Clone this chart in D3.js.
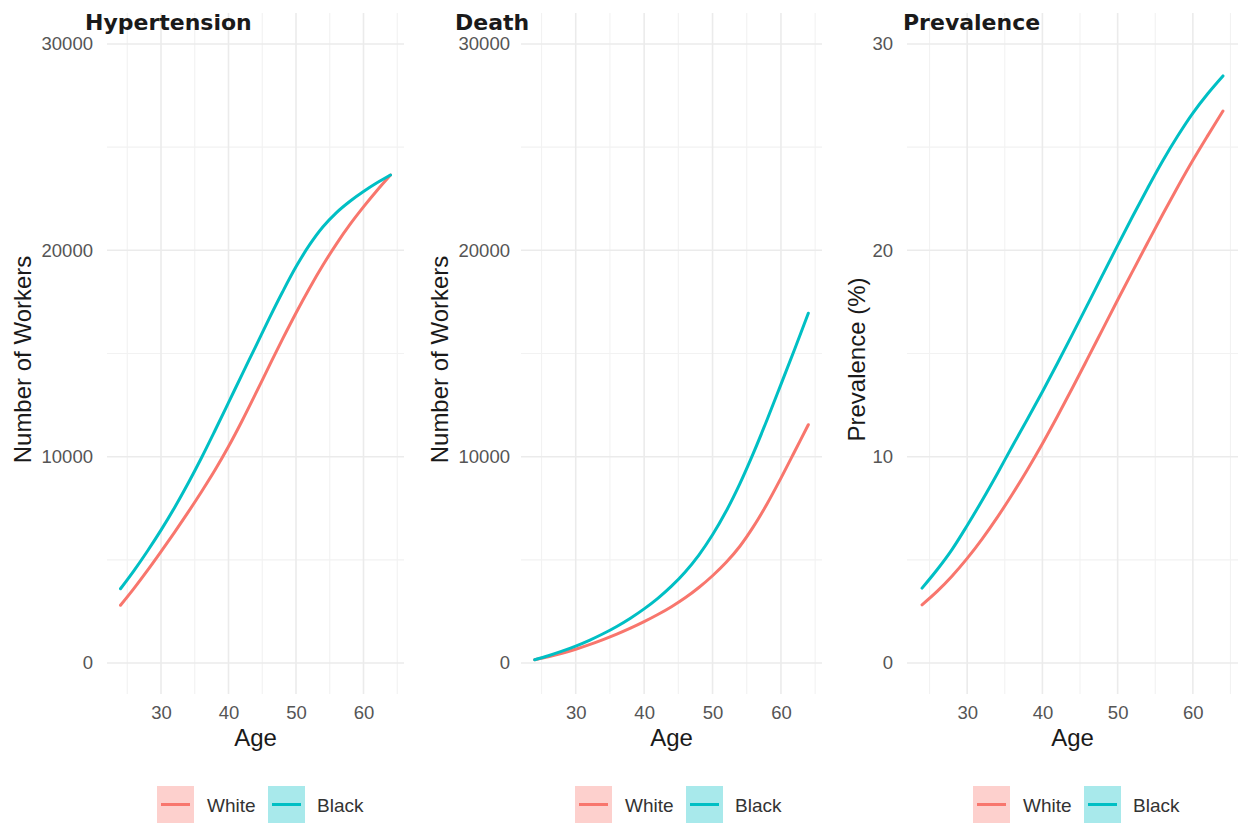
<!DOCTYPE html>
<html>
<head>
<meta charset="utf-8">
<script src="https://cdn.jsdelivr.net/npm/d3@7"></script>
<style>
  html, body { margin: 0; padding: 0; background: #ffffff; }
  svg { display: block; }
</style>
</head>
<body>
<svg id="chart" width="1243" height="827"></svg>
<script>
// ---------------- data ----------------
const ages = [24, 26, 28, 30, 32, 34, 36, 38, 40, 42, 44, 46, 48, 50, 52, 54, 56, 58, 60, 62, 64];

const hyperWhite = [2800, 3620, 4490, 5400, 6336, 7300, 8300, 9350, 10490, 11730, 13040, 14376, 15696, 16966, 18166, 19286, 20316, 21256, 22106, 22900, 23650];
const hyperBlack = [3600, 4480, 5430, 6440, 7530, 8700, 9950, 11270, 12620, 13980, 15324, 16680, 17980, 19200, 20260, 21140, 21830, 22380, 22850, 23270, 23650];

const deathWhite = [160, 304, 474, 670, 890, 1134, 1400, 1690, 2006, 2350, 2730, 3160, 3660, 4230, 4880, 5660, 6620, 7730, 8960, 10250, 11550];
const deathBlack = [160, 354, 574, 822, 1102, 1418, 1774, 2174, 2624, 3134, 3724, 4414, 5234, 6214, 7364, 8694, 10194, 11814, 13504, 15204, 16950];

const prevWhite = [2.82, 3.47, 4.22, 5.07, 6.02, 7.06, 8.18, 9.37, 10.63, 11.96, 13.34, 14.75, 16.17, 17.59, 18.99, 20.38, 21.75, 23.08, 24.36, 25.57, 26.75];
const prevBlack = [3.63, 4.52, 5.51, 6.665, 7.89, 9.175, 10.51, 11.81, 13.15, 14.53, 15.94, 17.37, 18.81, 20.24, 21.65, 23.02, 24.34, 25.55, 26.65, 27.6, 28.45];

const seriesNames = ["White", "Black"];
const seriesColors = ["#F8766D", "#00BFC4"];

const xMajorTicks = [30, 40, 50, 60];
const xMinorTicks = [25, 35, 45, 55, 65];
const workersMajorTicks = [0, 10000, 20000, 30000];
const workersMinorTicks = [5000, 15000, 25000];
const prevMajorTicks = [0, 10, 20, 30];
const prevMinorTicks = [5, 15, 25];

const panelTitles = ["Hypertension", "Death", "Prevalence"];
const yTitles = ["Number of Workers", "Number of Workers", "Prevalence (%)"];
const xTitle = "Age";

// ---------------- layout ----------------
const panels = [
  { title: panelTitles[0], yTitle: yTitles[0], white: hyperWhite, black: hyperBlack,
    yMax: 30000, yMajor: workersMajorTicks, yMinor: workersMinorTicks,
    left: 107, right: 404, titleX: 85, yTitleX: 23, tickRight: 93, legendX: 157 },
  { title: panelTitles[1], yTitle: yTitles[1], white: deathWhite, black: deathBlack,
    yMax: 30000, yMajor: workersMajorTicks, yMinor: workersMinorTicks,
    left: 521, right: 822, titleX: 455, yTitleX: 440, tickRight: 510, legendX: 575 },
  { title: panelTitles[2], yTitle: yTitles[2], white: prevWhite, black: prevBlack,
    yMax: 30, yMajor: prevMajorTicks, yMinor: prevMinorTicks,
    left: 907, right: 1238, titleX: 903, yTitleX: 857, tickRight: 893, legendX: 973 }
];
const plotTop = 13, plotBottom = 694;

const svg = d3.select("#chart");

panels.forEach(p => {
  const g = svg.append("g");
  const xMin = 24, xMax = 64, xPad = (xMax - xMin) * 0.05;
  const x = d3.scaleLinear().domain([xMin - xPad, xMax + xPad]).range([p.left, p.right]);
  const yPad = p.yMax * 0.05;
  const y = d3.scaleLinear().domain([-yPad, p.yMax + yPad]).range([plotBottom, plotTop]);

  // minor grid
  g.selectAll(".vminor").data(xMinorTicks).enter().append("line")
    .attr("x1", d => x(d)).attr("x2", d => x(d)).attr("y1", plotTop).attr("y2", plotBottom)
    .attr("stroke", "#F2F2F2").attr("stroke-width", 1.1);
  g.selectAll(".hminor").data(p.yMinor).enter().append("line")
    .attr("x1", p.left).attr("x2", p.right).attr("y1", d => y(d)).attr("y2", d => y(d))
    .attr("stroke", "#F2F2F2").attr("stroke-width", 1.1);
  // major grid
  g.selectAll(".vmajor").data(xMajorTicks).enter().append("line")
    .attr("x1", d => x(d)).attr("x2", d => x(d)).attr("y1", plotTop).attr("y2", plotBottom)
    .attr("stroke", "#EBEBEB").attr("stroke-width", 1.6);
  g.selectAll(".hmajor").data(p.yMajor).enter().append("line")
    .attr("x1", p.left).attr("x2", p.right).attr("y1", d => y(d)).attr("y2", d => y(d))
    .attr("stroke", "#EBEBEB").attr("stroke-width", 1.6);

  // axes (labels only)
  const xAxis = d3.axisBottom(x).tickValues(xMajorTicks).tickSize(0).tickPadding(0);
  const xg = g.append("g").attr("transform", `translate(0,${plotBottom})`).call(xAxis);
  xg.select(".domain").remove();
  xg.selectAll("text").attr("dy", null).attr("y", 25)
    .attr("font-family", "Liberation Sans, Arial, sans-serif").attr("font-size", 18.5)
    .attr("fill", "#555555");

  const yAxis = d3.axisLeft(y).tickValues(p.yMajor).tickSize(0).tickPadding(0).tickFormat(d3.format("d"));
  const yg = g.append("g").attr("transform", `translate(${p.tickRight},0)`).call(yAxis);
  yg.select(".domain").remove();
  yg.selectAll("text").attr("x", 0)
    .attr("font-family", "Liberation Sans, Arial, sans-serif").attr("font-size", 18.5)
    .attr("fill", "#555555");

  // lines
  const line = d3.line().x((d, i) => x(ages[i])).y(d => y(d)).curve(d3.curveCatmullRom);
  [p.white, p.black].forEach((vals, k) => {
    g.append("path").datum(vals).attr("d", line)
      .attr("fill", "none").attr("stroke", seriesColors[k]).attr("stroke-width", 3)
      .attr("stroke-linecap", "round");
  });

  // titles
  g.append("text").attr("x", p.titleX).attr("y", 30).text(p.title)
    .attr("font-family", "DejaVu Sans, sans-serif").attr("font-weight", "bold")
    .attr("font-size", 22).attr("fill", "#1a1a1a");
  g.append("text").attr("x", (p.left + p.right) / 2).attr("y", 746).attr("text-anchor", "middle")
    .text(xTitle).attr("font-family", "Liberation Sans, Arial, sans-serif")
    .attr("font-size", 24).attr("fill", "#1a1a1a");
  g.append("text").attr("transform", `translate(${p.yTitleX + 8},${(plotTop + plotBottom) / 2 + 6}) rotate(-90)`)
    .attr("text-anchor", "middle").text(p.yTitle)
    .attr("font-family", "Liberation Sans, Arial, sans-serif")
    .attr("font-size", 24).attr("fill", "#1a1a1a");

  // legend
  const lg = g.append("g").attr("transform", `translate(${p.legendX},786)`);
  const keyX = [0, 111];
  const textX = [50, 160];
  seriesNames.forEach((name, k) => {
    lg.append("rect").attr("x", keyX[k]).attr("y", 0).attr("width", 37).attr("height", 37)
      .attr("fill", seriesColors[k]).attr("fill-opacity", 0.34);
    lg.append("line").attr("x1", keyX[k] + 4).attr("x2", keyX[k] + 33)
      .attr("y1", 18.5).attr("y2", 18.5)
      .attr("stroke", seriesColors[k]).attr("stroke-width", 3);
    lg.append("text").attr("x", textX[k]).attr("y", 26).text(name)
      .attr("font-family", "Liberation Sans, Arial, sans-serif")
      .attr("font-size", 19).attr("fill", "#333333");
  });
});
</script>
</body>
</html>
